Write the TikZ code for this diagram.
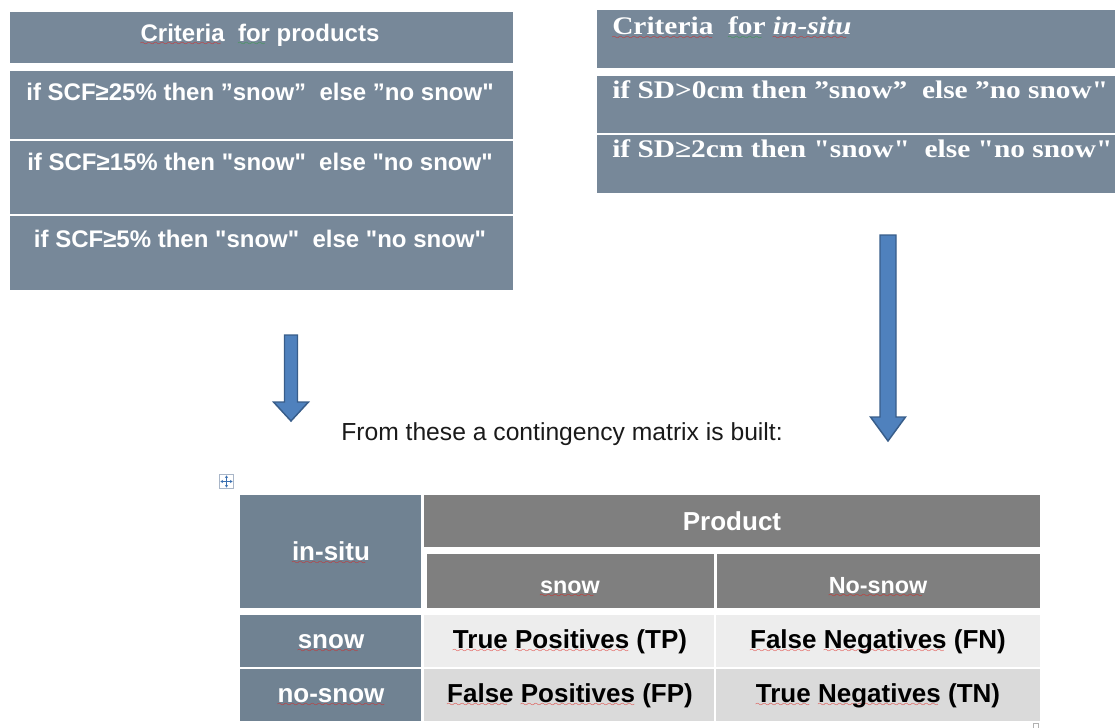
\documentclass[tikz,border=0pt]{standalone}
\usepackage{fontspec}
\setmainfont{Liberation Sans}
\newfontfamily\arialf{Liberation Sans}
\newfontfamily\cambria[FakeStretch=1.16]{Liberation Serif}
\usetikzlibrary{fit,arrows.meta}
\definecolor{slate}{HTML}{778899}
\definecolor{slatetab}{HTML}{708292}
\definecolor{hdrgray}{HTML}{7F7F7F}
\definecolor{rowone}{HTML}{EDEDED}
\definecolor{rowtwo}{HTML}{DADADA}
\definecolor{arrowfill}{HTML}{4F81BD}
\definecolor{arrowline}{HTML}{385D8A}
\definecolor{sqred}{HTML}{E0201A}
\definecolor{sqgreen}{HTML}{2E9E3E}
\definecolor{inktext}{HTML}{1A1A1A}
\definecolor{iconblue}{HTML}{3A6FB0}
\definecolor{iconframe}{HTML}{A9B6C8}
\font\squigfont=lasy6
\newsavebox\sqbox
\newcommand\squig[2]{\sbox\sqbox{#2}\rlap{\textcolor{#1}{\lower3pt\hbox to\wd\sqbox{\leaders\hbox{\squigfont\char58}\hfil}}}\usebox\sqbox}
\newcommand\rsq[1]{\squig{sqred}{#1}}
\newcommand\gsq[1]{\squig{sqgreen}{#1}}
\tikzset{
  cell/.style={inner sep=0pt, outer sep=0pt, draw=none},
  topbox/.style={cell, fill=slate},
  labcell/.style={cell, fill=slatetab},
  hdrcell/.style={cell, fill=hdrgray},
  rowa/.style={cell, fill=rowone},
  rowb/.style={cell, fill=rowtwo},
  ltxt/.style={inner sep=0pt, text=white, font=\arialf\bfseries\fontsize{18}{20}\selectfont},
  rtxt/.style={inner sep=0pt, text=white, font=\cambria\bfseries\fontsize{19}{21}\selectfont},
  tabw/.style={inner sep=0pt, text=white, font=\arialf\bfseries\fontsize{19.5}{22}\selectfont},
  tabsub/.style={inner sep=0pt, text=white, font=\arialf\bfseries\fontsize{17.5}{20}\selectfont},
  tabk/.style={inner sep=0pt, text=black, font=\arialf\bfseries\fontsize{19.5}{22}\selectfont},
  blockarrow/.style={fill=arrowfill, draw=arrowline, line width=1.1pt, line join=miter},
}
\begin{document}
\begin{tikzpicture}[x=0.75pt,y=-0.75pt]
\useasboundingbox (0,0) rectangle (1115,728);
% ---------- left criteria box ----------
\node[topbox, fit={(10,12) (513,63)}] (lh) {};
\node[topbox, fit={(10,71) (513,139)}] (l1) {};
\node[topbox, fit={(10,141) (513,214)}] (l2) {};
\node[topbox, fit={(10,216) (513,290)}] (l3) {};
\node[ltxt, anchor=base] (lht) at (260,41) {\rsq{Criteria}\ \ \gsq{for} products};
\node[ltxt, anchor=base] (l1t) at (260,100) {if SCF≥25\% then ”snow”\ \ else ”no snow"};
\node[ltxt, anchor=base] (l2t) at (260,170) {if SCF≥15\% then "snow"\ \ else "no snow"};
\node[ltxt, anchor=base] (l3t) at (260,247) {if SCF≥5\% then "snow"\ \ else "no snow"};
% ---------- right criteria box ----------
\node[topbox, fit={(597,10) (1115,68)}] (rh) {};
\node[topbox, fit={(597,76) (1115,133)}] (r1) {};
\node[topbox, fit={(597,135) (1115,193)}] (r2) {};
\node[rtxt, anchor=base west] (rht) at (612,35) {\rsq{Criteria}\ \ \gsq{for} {\itshape\rsq{in-situ}}};
\node[rtxt, anchor=base west] (r1t) at (612,98) {if SD>0cm then ”snow”\ \ else ”no snow"};
\node[rtxt, anchor=base west] (r2t) at (612,157) {if SD≥2cm then "snow"\ \ else "no snow"};
% ---------- block arrows ----------
\draw[blockarrow] (284.5,335) -- (297.5,335) -- (297.5,402) -- (308.5,402) -- (291,421)
  -- (273.5,402) -- (284.5,402) -- cycle;
\draw[blockarrow] (880,235) -- (896,235) -- (896,417) -- (905.5,417) -- (888,441)
  -- (870.5,417) -- (880,417) -- cycle;
% ---------- caption ----------
\node[inner sep=0pt, text=inktext, font=\arialf\fontsize{18.5}{21}\selectfont, anchor=base] (cap) at (562,440)
  {From these a contingency matrix is built:};
% ---------- table ----------
\node[draw=iconframe, fill=white, line width=0.6pt, minimum width=11pt, minimum height=11pt, inner sep=0pt] (mv) at (226.5,481.5) {};
\draw[iconblue, line width=0.7pt, {Stealth[length=2pt,width=2.4pt]}-{Stealth[length=2pt,width=2.4pt]}]
  ([xshift=1.2pt]mv.west) -- ([xshift=-1.2pt]mv.east);
\draw[iconblue, line width=0.7pt, {Stealth[length=2pt,width=2.4pt]}-{Stealth[length=2pt,width=2.4pt]}]
  ([yshift=-1.2pt]mv.north) -- ([yshift=1.2pt]mv.south);

\node[labcell, fit={(240,495) (421,608)}] (insitu) {};
\node[hdrcell, fit={(424,495) (1040,547)}] (prod) {};
\node[hdrcell, fit={(427,554) (714,608)}] (hsnow) {};
\node[hdrcell, fit={(717,554) (1040,608)}] (hnosnow) {};
\node[labcell, fit={(240,615) (421,667)}] (lsnow) {};
\node[labcell, fit={(240,669) (421,721)}] (lnosnow) {};
\node[rowa, fit={(424,615) (714,667)}] (tp) {};
\node[rowa, fit={(716,615) (1040,667)}] (fn) {};
\node[rowb, fit={(424,669) (714,721)}] (fp) {};
\node[rowb, fit={(716,669) (1040,721)}] (tn) {};
\node[draw=gray!60, line width=0.5pt, minimum width=3.5pt, minimum height=4pt, inner sep=0pt] (rs) at (1035.5,725.5) {};

\node[tabw, anchor=base] (insitut) at (331,560) {\rsq{in-situ}};
\node[tabw, anchor=base] (prodt) at (732,530) {Product};
\node[tabsub, anchor=base] (hsnowt) at (570,593) {\rsq{snow}};
\node[tabsub, anchor=base] (hnosnowt) at (878,593) {\rsq{No-snow}};
\node[tabw, anchor=base] (lsnowt) at (331,648) {\rsq{snow}};
\node[tabw, anchor=base] (lnosnowt) at (331,702) {\rsq{no-snow}};
\node[tabk, anchor=base] (tpt) at (570,648) {\rsq{True} \rsq{Positives} (TP)};
\node[tabk, anchor=base] (fnt) at (878,648) {\rsq{False} \rsq{Negatives} (FN)};
\node[tabk, anchor=base] (fpt) at (570,702) {\rsq{False} \rsq{Positives} (FP)};
\node[tabk, anchor=base] (tnt) at (878,702) {\rsq{True} \rsq{Negatives} (TN)};
\end{tikzpicture}
\end{document}
